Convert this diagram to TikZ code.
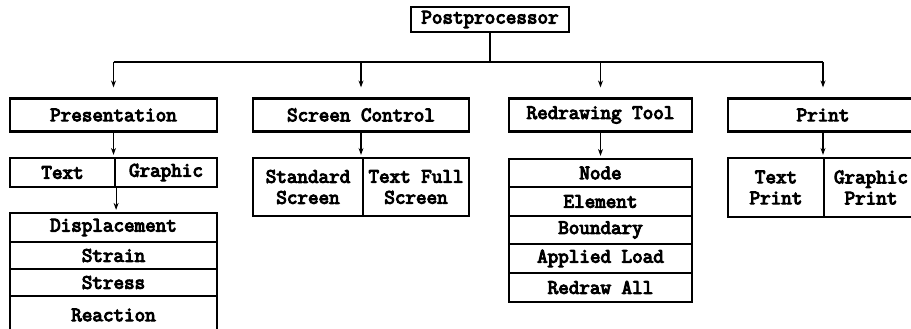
\documentclass[tikz,border=0pt]{standalone}
\usepackage{fontspec}
\newfontfamily\boxfont[FakeBold=5]{Latin Modern Mono}
\usetikzlibrary{arrows.meta}
\tikzset{
  box/.style={draw, line width=2.2pt, inner sep=0pt, align=center,
    font=\boxfont\fontsize{20.5}{21}\selectfont},
  link/.style={line width=1.2pt},
  arr/.style={link, -{Stealth[length=7pt,width=5pt]}},
}
\begin{document}
\begin{tikzpicture}[x=1pt,y=-1pt]
\useasboundingbox (0,0) rectangle (911,329);
\clip (0,0) rectangle (911,329);

% root
\node[box, minimum width=158pt, minimum height=25pt] (post) at (490,19.5) {Postprocessor};

% first level
\node[box, minimum width=207pt, minimum height=33pt] (pres)   at (113.5,115) {Presentation};
\node[box, minimum width=216pt, minimum height=33pt] (scr)    at (361,115)   {Screen Control};
\node[box, minimum width=183pt, minimum height=33pt] (redraw) at (600.5,115) {Redrawing Tool};
\node[box, minimum width=190pt, minimum height=33pt] (print)  at (823,115)   {Print};

% Presentation branch
\node[box, minimum width=105pt, minimum height=29pt] (tgl) at (62.5,172.5) {Text};
\node[box, minimum width=102pt, minimum height=29pt] (tgr) at (166,172.5)  {Graphic};
\node[box, minimum width=207pt, minimum height=29pt] (disp)   at (113.5,227.5) {Displacement};
\node[box, minimum width=207pt, minimum height=27pt] (strain) at (113.5,255.5) {Strain};
\node[box, minimum width=207pt, minimum height=27pt] (stress) at (113.5,282.5) {Stress};
\node[box, minimum width=207pt, minimum height=38pt] (react)  at (113.5,315)   {Reaction};

% Screen Control branch
\node[box, minimum width=110pt, minimum height=58pt] (stdscr)  at (308,187) {Standard\\Screen};
\node[box, minimum width=106pt, minimum height=58pt] (fullscr) at (416,187) {Text Full\\Screen};

% Redrawing Tool branch
\node[box, minimum width=183pt, minimum height=28pt] (rnode) at (600.5,173)   {Node};
\node[box, minimum width=183pt, minimum height=29pt] (relem) at (600.5,201.5) {Element};
\node[box, minimum width=183pt, minimum height=28pt] (rbnd)  at (600.5,230)   {Boundary};
\node[box, minimum width=183pt, minimum height=29pt] (rload) at (600.5,258.5) {Applied Load};
\node[box, minimum width=183pt, minimum height=29pt] (rall)  at (600.5,287.5) {Redraw All};

% Print branch
\node[box, minimum width=96pt, minimum height=59pt] (tprint) at (776,187.5) {Text\\Print};
\node[box, minimum width=94pt, minimum height=59pt] (gprint) at (871,187.5) {Graphic\\Print};

% distribution bus
\coordinate (bus) at (490,62);
\draw[link] (post.south) -- (bus);
\draw[link] (bus -| pres.north) -- (bus -| print.north);
\foreach \n in {pres,scr,redraw,print}
  \draw[arr] (bus -| \n.north) -- ([yshift=10pt]\n.north);

% short arrows inside the branches
\draw[arr, shorten >=2pt] (pres.south) -- (tgl.north -| pres.south);
\draw[arr, shorten >=2pt] (tgl.south east) -- (disp.north -| tgl.south east);
\draw[arr, shorten >=2pt] (scr.south) -- (stdscr.north -| scr.south);
\draw[arr, shorten >=2pt] (redraw.south) -- (rnode.north);
\draw[arr, shorten >=2pt] (print.south) -- (tprint.north -| print.south);
\end{tikzpicture}
\end{document}
